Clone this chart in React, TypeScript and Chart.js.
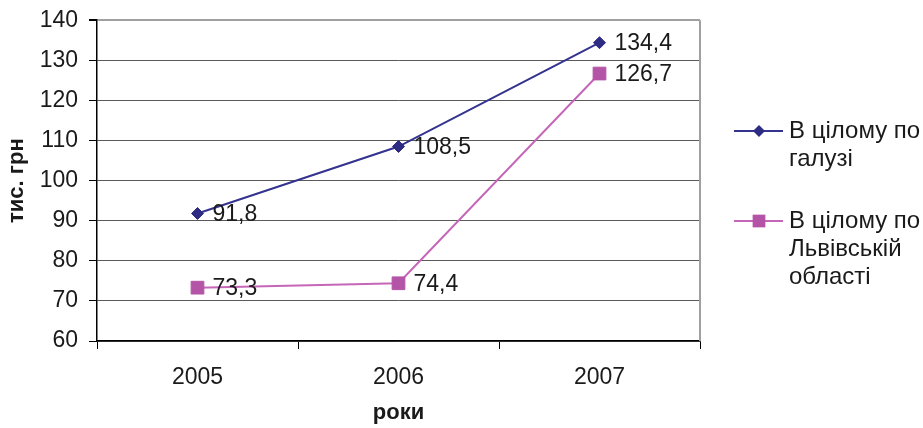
import React, { useEffect, useRef } from "react";
import { Chart, registerables } from "chart.js";

Chart.register(...registerables);

const categories = ["2005", "2006", "2007"];
const seriesIndustry = [91.8, 108.5, 134.4];
const seriesLviv = [73.3, 74.4, 126.7];
const seriesNames = [["В цілому по", "галузі"], ["В цілому по", "Львівській", "області"]];
const yTitle = "тис. грн";
const xTitle = "роки";

const FONT = "'Liberation Sans', Arial, sans-serif";
const NAVY = "#2E2B82";
const NAVY_LINE = "#34338F";
const PINK = "#B454A6";
const PINK_LINE = "#C566B8";

const fmt = (v: number) => v.toFixed(1).replace(".", ",");

const dataLabels = {
  id: "dataLabels",
  afterDatasetsDraw(chart: any) {
    const ctx = chart.ctx;
    ctx.save();
    ctx.font = `23px ${FONT}`;
    ctx.fillStyle = "#1a1a1a";
    ctx.textAlign = "left";
    ctx.textBaseline = "middle";
    chart.data.datasets.forEach((ds: any, i: number) => {
      const meta = chart.getDatasetMeta(i);
      meta.data.forEach((el: any, j: number) => {
        ctx.fillText(fmt(ds.data[j]), el.x + 15, el.y + 1);
      });
    });
    ctx.restore();
  },
};

const frame = {
  id: "frame",
  beforeDatasetsDraw(chart: any) {
    const { ctx, chartArea } = chart;
    ctx.save();
    ctx.strokeStyle = "#a0a0a0";
    ctx.lineWidth = 2;
    ctx.beginPath();
    ctx.moveTo(chartArea.right, chartArea.top);
    ctx.lineTo(chartArea.right, chartArea.bottom);
    ctx.stroke();
    ctx.restore();
  },
};

const customLegend = {
  id: "customLegend",
  afterDraw(chart: any) {
    const ctx = chart.ctx;
    ctx.save();
    const starts = [131, 221];
    const colors = [NAVY, PINK];
    const lineColors = [NAVY_LINE, PINK_LINE];
    const styles = ["rectRot", "rect"];
    const radii = [6, 9];
    starts.forEach((y, i) => {
      ctx.strokeStyle = lineColors[i];
      ctx.lineWidth = 2;
      ctx.beginPath();
      ctx.moveTo(734, y);
      ctx.lineTo(783, y);
      ctx.stroke();
      ctx.fillStyle = colors[i];
      const r = radii[i];
      ctx.beginPath();
      if (styles[i] === "rectRot") {
        ctx.moveTo(759 - r, y);
        ctx.lineTo(759, y - r);
        ctx.lineTo(759 + r, y);
        ctx.lineTo(759, y + r);
        ctx.closePath();
      } else {
        const s = Math.SQRT1_2 * r;
        ctx.rect(759 - s, y - s, 2 * s, 2 * s);
      }
      ctx.fill();
      ctx.font = `24px ${FONT}`;
      ctx.fillStyle = "#1a1a1a";
      ctx.textAlign = "left";
      ctx.textBaseline = "middle";
      seriesNames[i].forEach((line, k) => {
        ctx.fillText(line, 789, y + k * 28);
      });
    });
    ctx.restore();
  },
};

export default function App() {
  const ref = useRef<HTMLCanvasElement | null>(null);
  useEffect(() => {
    if (!ref.current) return;
    const chart = new Chart(ref.current, {
      type: "line",
      data: {
        labels: categories,
        datasets: [
          {
            label: seriesNames[0].join(" "),
            data: seriesIndustry,
            borderColor: NAVY_LINE,
            backgroundColor: NAVY,
            borderWidth: 2,
            pointStyle: "rectRot",
            pointRadius: 6,
            pointBorderWidth: 1,
            pointBorderColor: NAVY,
            pointBackgroundColor: NAVY,
            tension: 0,
          },
          {
            label: seriesNames[1].join(" "),
            data: seriesLviv,
            borderColor: PINK_LINE,
            backgroundColor: PINK,
            borderWidth: 2,
            pointStyle: "rect",
            pointRadius: 9,
            pointBorderWidth: 1,
            pointBorderColor: PINK,
            pointBackgroundColor: PINK,
            tension: 0,
          },
        ],
      },
      options: {
        responsive: false,
        animation: false,
        devicePixelRatio: 1,
        layout: { padding: { left: 0, right: 223, top: 20, bottom: 0 } },
        plugins: {
          legend: { display: false },
          tooltip: { enabled: false },
        },
        scales: {
          x: {
            offset: true,
            afterFit: (s: any) => {
              s.height = 87;
            },
            grid: {
              offset: true,
              drawOnChartArea: false,
              drawTicks: true,
              tickLength: 8,
              tickColor: "#000",
              color: "#000",
            },
            border: { color: "#000", width: 1.5 },
            ticks: {
              color: "#1a1a1a",
              font: { family: FONT, size: 23 },
              padding: 15,
            },
            title: {
              display: true,
              text: xTitle,
              color: "#1a1a1a",
              font: { family: FONT, size: 22, weight: "bold" },
              padding: { top: 0, bottom: 2 },
            },
          },
          y: {
            min: 60,
            max: 140,
            afterFit: (s: any) => {
              s.width = 97;
            },
            grid: {
              color: (c: any) => (c.tick && c.tick.value === 140 ? "#a0a0a0" : "#5a5a5a"),
              lineWidth: (c: any) => (c.tick && c.tick.value === 140 ? 2 : 1),
              tickColor: "#000",
              tickLength: 8,
            },
            border: { color: "#000", width: 1.5 },
            ticks: {
              stepSize: 10,
              color: "#1a1a1a",
              font: { family: FONT, size: 23, lineHeight: 0.8 },
              padding: 11,
            },
            title: {
              display: true,
              text: yTitle,
              color: "#1a1a1a",
              font: { family: FONT, size: 22, weight: "bold" },
              padding: { top: 4, bottom: 0 },
            },
          },
        },
      },
      plugins: [frame, dataLabels, customLegend],
    });
    return () => chart.destroy();
  }, []);
  return (
    <div style={{ position: "absolute", left: 0, top: 0, width: 923, height: 428, background: "#fff" }}>
      <canvas ref={ref} width={923} height={428} style={{ width: 923, height: 428 }} />
    </div>
  );
}
